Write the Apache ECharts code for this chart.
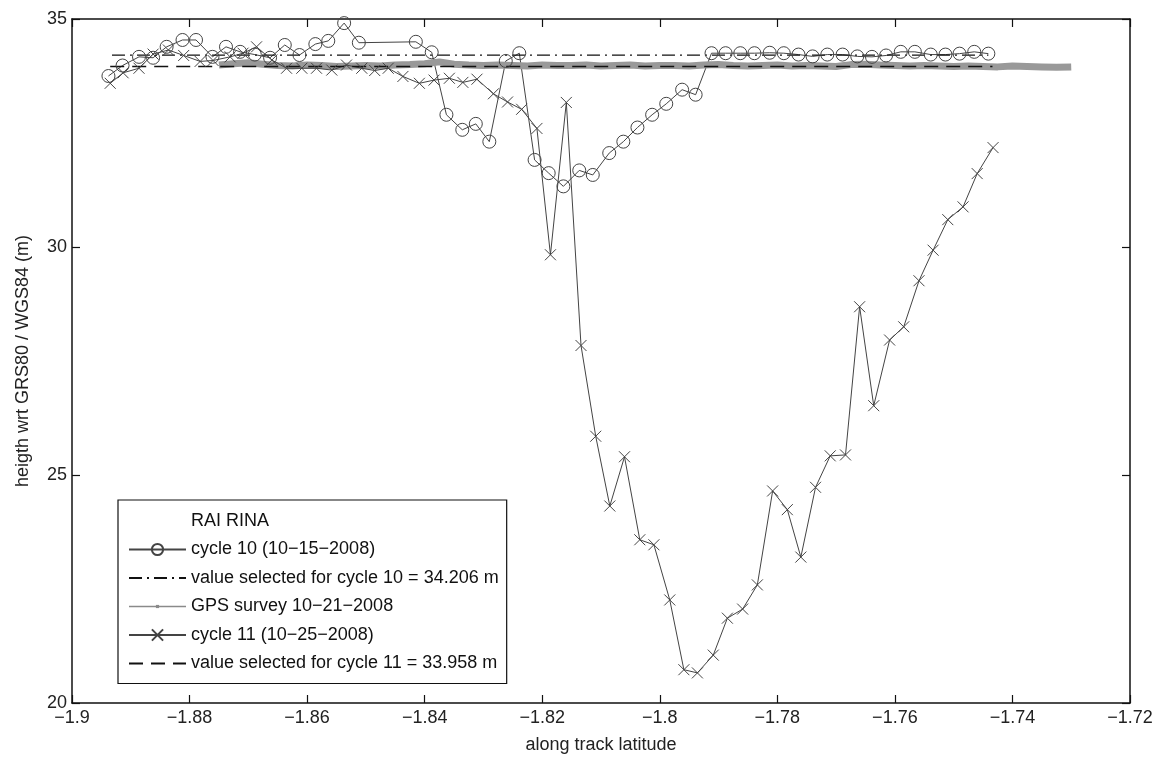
<!DOCTYPE html>
<html>
<head>
<meta charset="utf-8">
<script src="https://cdn.jsdelivr.net/npm/echarts@6/dist/echarts.min.js"></script>
<style>html,body{margin:0;padding:0;background:#fff}#c{width:1161px;height:759px}</style>
</head>
<body>
<div id="c"></div>
<script>
// ---- data ----
var xTickLabels = ['\u22121.9','\u22121.88','\u22121.86','\u22121.84','\u22121.82','\u22121.8','\u22121.78','\u22121.76','\u22121.74','\u22121.72'];
var yTickLabels = ['20','25','30','35'];

var cycle10Lat = [-1.8938,-1.8914,-1.8886,-1.8862,-1.8839,-1.8812,-1.8789,-1.8761,-1.8738,-1.8714,-1.8689,-1.8663,-1.8638,-1.8613,-1.8586,-1.8564,-1.8537,-1.8512,-1.8415,-1.8388,-1.8363,-1.8336,-1.8313,-1.8290,-1.8262,-1.8239,-1.8213,-1.8189,-1.8164,-1.8137,-1.8114,-1.8086,-1.8062,-1.8038,-1.8013,-1.7989,-1.7962,-1.7939,-1.7912,-1.7888,-1.7863,-1.7839,-1.7813,-1.7789,-1.7764,-1.7740,-1.7715,-1.7689,-1.7664,-1.7639,-1.7615,-1.7590,-1.7566,-1.7539,-1.7514,-1.7490,-1.7465,-1.7441];
var cycle10H = [33.75,33.98,34.17,34.15,34.39,34.54,34.54,34.17,34.39,34.28,34.22,34.15,34.43,34.21,34.45,34.52,34.91,34.48,34.50,34.27,32.90,32.57,32.70,32.31,34.08,34.25,31.91,31.62,31.33,31.68,31.58,32.06,32.31,32.62,32.90,33.14,33.45,33.34,34.25,34.25,34.25,34.25,34.26,34.25,34.22,34.18,34.22,34.22,34.18,34.17,34.20,34.28,34.28,34.22,34.22,34.24,34.28,34.24];

var cycle11Lat = [-1.8935,-1.8913,-1.8886,-1.8862,-1.8836,-1.8810,-1.8782,-1.8760,-1.8731,-1.8709,-1.8686,-1.8660,-1.8635,-1.8609,-1.8584,-1.8558,-1.8533,-1.8507,-1.8485,-1.8462,-1.8437,-1.8409,-1.8384,-1.8358,-1.8335,-1.8311,-1.8283,-1.8259,-1.8235,-1.8209,-1.8186,-1.8159,-1.8134,-1.8109,-1.8085,-1.8060,-1.8034,-1.8010,-1.7983,-1.7959,-1.7936,-1.7909,-1.7885,-1.7859,-1.7834,-1.7808,-1.7783,-1.7760,-1.7735,-1.7710,-1.7684,-1.7660,-1.7636,-1.7609,-1.7585,-1.7559,-1.7535,-1.7510,-1.7484,-1.7460,-1.7433];
var cycle11H = [33.59,33.82,33.92,34.23,34.32,34.20,34.07,34.09,34.17,34.25,34.39,34.10,33.92,33.92,33.92,33.88,33.99,33.92,33.87,33.92,33.74,33.59,33.66,33.70,33.61,33.68,33.36,33.18,33.02,32.60,29.83,33.17,27.84,25.85,24.32,25.40,23.58,23.47,22.26,20.73,20.66,21.05,21.86,22.06,22.59,24.65,24.24,23.20,24.73,25.42,25.44,28.69,26.52,27.96,28.25,29.26,29.93,30.60,30.88,31.61,32.18];

var gpsLat = [-1.8750,-1.8725,-1.8700,-1.8675,-1.8650,-1.8625,-1.8600,-1.8575,-1.8550,-1.8525,-1.8500,-1.8475,-1.8450,-1.8425,-1.8400,-1.8375,-1.8350,-1.8325,-1.8300,-1.8275,-1.8250,-1.8225,-1.8200,-1.8175,-1.8150,-1.8125,-1.8100,-1.8075,-1.8050,-1.8025,-1.8000,-1.7975,-1.7950,-1.7925,-1.7900,-1.7875,-1.7850,-1.7825,-1.7800,-1.7775,-1.7750,-1.7725,-1.7700,-1.7675,-1.7650,-1.7625,-1.7600,-1.7575,-1.7550,-1.7525,-1.7500,-1.7475,-1.7450,-1.7425,-1.7400,-1.7375,-1.7350,-1.7325,-1.7300];
var gpsH = [33.99,34.02,34.04,34.01,33.98,33.97,33.99,33.98,33.96,33.97,33.98,33.97,33.99,34.00,34.02,34.06,34.01,33.99,33.98,33.99,33.98,33.97,33.99,33.98,33.98,33.99,33.97,33.98,33.99,33.97,33.98,33.98,33.97,33.99,34.00,33.98,33.97,33.98,33.99,33.97,33.98,33.97,33.96,34.00,34.01,33.99,33.98,33.97,33.98,33.97,33.96,33.97,33.96,33.95,33.97,33.96,33.95,33.94,33.95];

var sel10Lat = [-1.8932,-1.7441];
var sel10H = [34.206,34.206];
var sel11Lat = [-1.8935,-1.7434];
var sel11H = [33.958,33.958];

var names = ['RAI RINA','cycle 10 (10\u221215\u22122008)','value selected for cycle 10 = 34.206 m','GPS survey 10\u221221\u22122008','cycle 11 (10\u221225\u22122008)','value selected for cycle 11 = 33.958 m'];

function zip(a,b){var r=[];for(var i=0;i<a.length;i++)r.push([a[i],b[i]]);return r;}

var FONT = 'Liberation Sans';
var XMIN=-1.9, XMAX=-1.72, XINT=0.02;
var YMIN=20, YMAX=35, YINT=5;
var crossPath = 'path://M0,0L10,10M10,0L0,10';
// small dot inside a larger (invisible) box so the legend shows a tiny marker
var smallDotPath = 'path://M0,0M12,12M4.3,4.3L7.7,4.3L7.7,7.7L4.3,7.7Z';
var hidden = {color:'rgba(0,0,0,0)', borderColor:'rgba(0,0,0,0)', borderWidth:0};

var chart = echarts.init(document.getElementById('c'), null, {renderer:'canvas'});
var axisLabelStyle = {fontFamily:FONT, fontSize:18, color:'#222'};
var option = {
  animation:false,
  backgroundColor:'#fff',
  textStyle:{fontFamily:FONT},
  grid:{left:72, right:31, top:19, bottom:55, containLabel:false},
  xAxis:[{
    type:'value', min:XMIN, max:XMAX, interval:XINT, position:'bottom',
    name:'along track latitude', nameLocation:'middle', nameGap:33,
    nameTextStyle:{fontFamily:FONT, fontSize:18, color:'#222'},
    axisLine:{show:true, lineStyle:{color:'#111', width:1.5}},
    axisTick:{show:true, inside:true, length:8, lineStyle:{color:'#111', width:1.2}},
    axisLabel:Object.assign({margin:6, formatter:function(v){return xTickLabels[Math.round((v-XMIN)/XINT)];}}, axisLabelStyle),
    splitLine:{show:false}
  },{
    type:'value', min:XMIN, max:XMAX, interval:XINT, position:'top',
    axisLine:{show:true, lineStyle:{color:'#111', width:1.5}},
    axisTick:{show:true, inside:true, length:8, lineStyle:{color:'#111', width:1.2}},
    axisLabel:{show:false}, splitLine:{show:false}
  }],
  yAxis:[{
    type:'value', min:YMIN, max:YMAX, interval:YINT, position:'left',
    name:'heigth wrt GRS80 / WGS84 (m)', nameLocation:'middle', nameGap:40, nameRotate:90,
    nameTextStyle:{fontFamily:FONT, fontSize:18, color:'#222'},
    axisLine:{show:true, lineStyle:{color:'#111', width:1.5}},
    axisTick:{show:true, inside:true, length:8, lineStyle:{color:'#111', width:1.2}},
    axisLabel:Object.assign({margin:5, formatter:function(v){return yTickLabels[Math.round((v-YMIN)/YINT)];}}, axisLabelStyle),
    splitLine:{show:false}
  },{
    type:'value', min:YMIN, max:YMAX, interval:YINT, position:'right',
    axisLine:{show:true, lineStyle:{color:'#111', width:1.5}},
    axisTick:{show:true, inside:true, length:8, lineStyle:{color:'#111', width:1.2}},
    axisLabel:{show:false}, splitLine:{show:false}
  }],
  legend:{
    orient:'vertical', left:118, top:500,
    backgroundColor:'#fff', borderColor:'#111', borderWidth:1.2, borderRadius:0,
    padding:[12,8,11,10], itemWidth:57, itemHeight:14, itemGap:10.5,
    textStyle:{fontFamily:FONT, fontSize:18, color:'#111'},
    selectedMode:false,
    data:[
      {name:names[0], icon:'none'},
      {name:names[1]},
      {name:names[2], itemStyle:hidden},
      {name:names[3], lineStyle:{width:1.5, color:'#8a8a8a'}, itemStyle:{color:'#8a8a8a'}},
      {name:names[4]},
      {name:names[5], itemStyle:hidden}
    ]
  },
  series:[
    {name:names[0], type:'scatter', data:[]},
    {name:names[1], type:'line', data:zip(cycle10Lat,cycle10H),
      symbol:'circle', symbolSize:13, showAllSymbol:true,
      lineStyle:{color:'#444', width:1},
      itemStyle:{color:'rgba(0,0,0,0)', borderColor:'#444', borderWidth:1}},
    {name:names[2], type:'line', data:zip(sel10Lat,sel10H), symbol:'none',
      lineStyle:{color:'#111', width:1.3, type:[13,5,2,5]}, itemStyle:{color:'#111'}},
    {name:names[3], type:'line', data:zip(gpsLat,gpsH),
      symbol:smallDotPath, symbolSize:12, showSymbol:false,
      lineStyle:{color:'#999', width:7}, itemStyle:{color:'#999'}},
    {name:names[4], type:'line', data:zip(cycle11Lat,cycle11H),
      symbol:crossPath, symbolSize:11, showAllSymbol:true,
      lineStyle:{color:'#444', width:1},
      itemStyle:{color:'rgba(0,0,0,0)', borderColor:'#444', borderWidth:1}},
    {name:names[5], type:'line', data:zip(sel11Lat,sel11H), symbol:'none',
      lineStyle:{color:'#111', width:1.3, type:[14,8]}, itemStyle:{color:'#111'}}
  ]
};
chart.setOption(option);
</script>
</body>
</html>
